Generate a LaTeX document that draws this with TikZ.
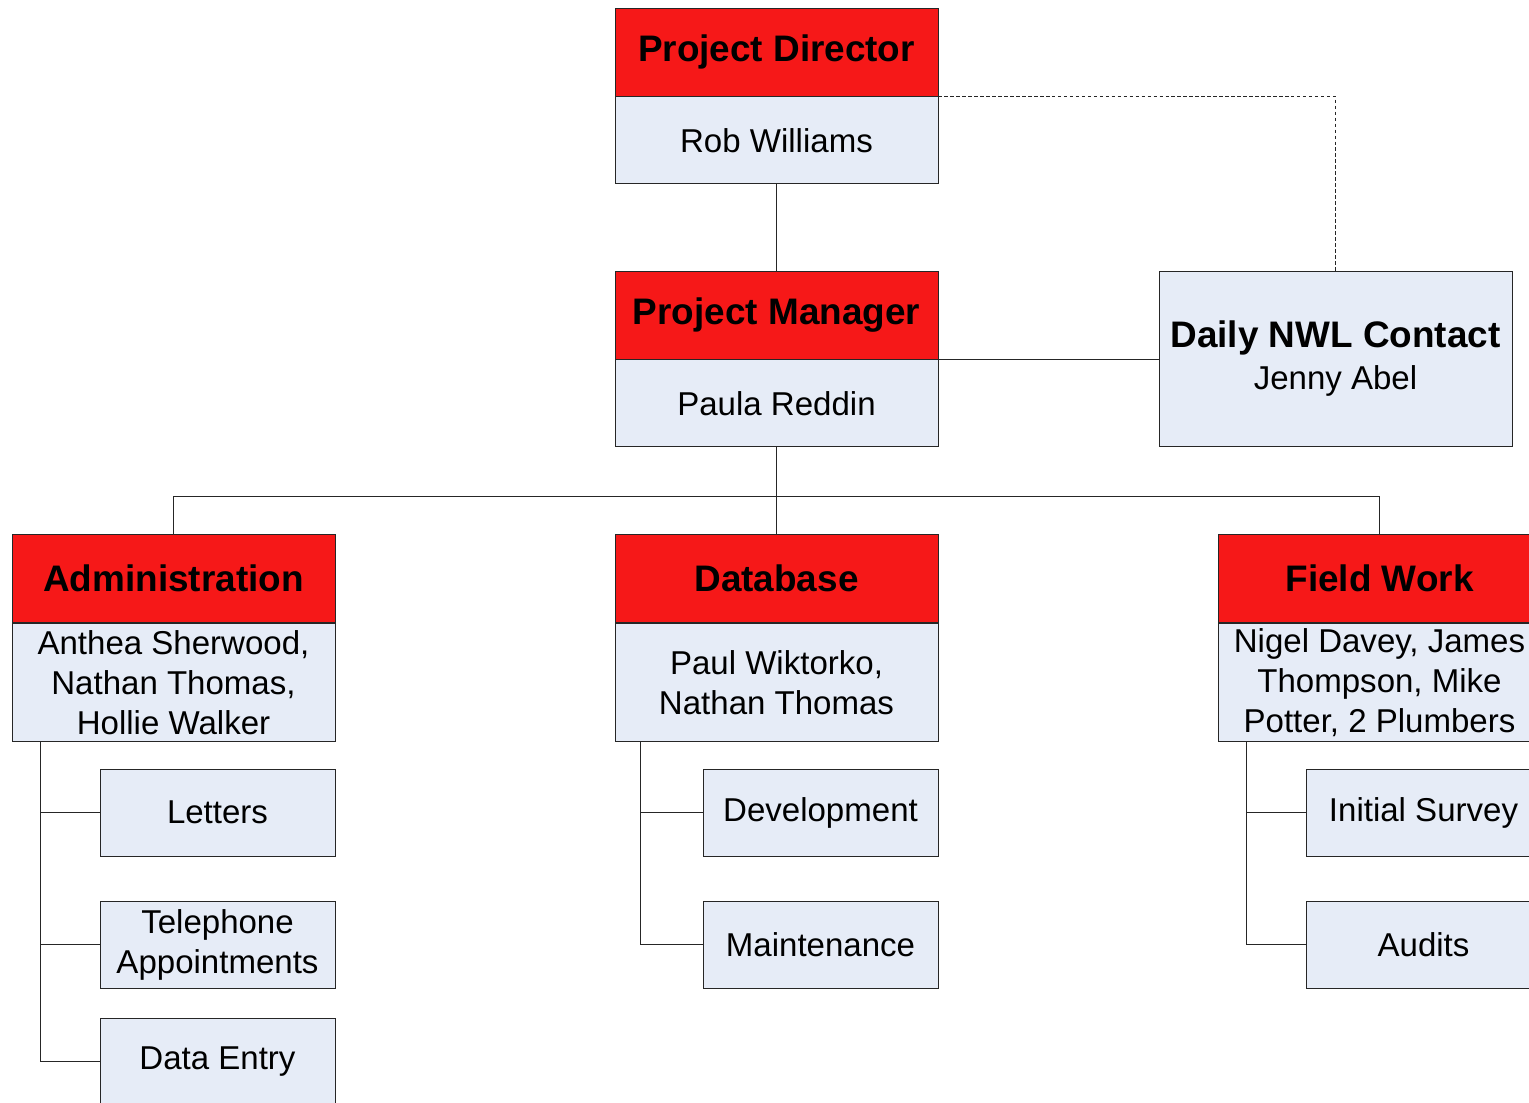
\documentclass[tikz,border=0pt]{standalone}
\usepackage{fontspec}
\setmainfont{Liberation Sans}
\usepackage{xcolor}
\usepackage{tikz}
\usetikzlibrary{positioning,calc}

\definecolor{headred}{RGB}{246,24,24}
\definecolor{boxblue}{RGB}{230,236,247}

\tikzset{
    line/.style={draw=black!85, line width=0.5pt},
    headbox/.style={line, fill=headred, minimum width=6.46cm, minimum height=1.76cm,
        inner sep=0pt, font=\bfseries\fontsize{21}{25}\selectfont},
    namebox/.style={line, fill=boxblue, minimum width=6.46cm, minimum height=1.74cm,
        inner sep=0pt, align=center, font=\fontsize{18.8}{22.7}\selectfont},
    taskbox/.style={namebox, minimum width=4.7cm}
}

\begin{document}
\begin{tikzpicture}
    \useasboundingbox (0,0) rectangle (30.58,-22.04);
    \clip (0,0) rectangle (30.58,-22.04);

    \node[headbox] (dirhead) at (15.53,-1.04) {Project Director};
    \node[namebox, below=0pt of dirhead] (dirbody) {Rob Williams};

    \node[headbox] (mgrhead) at (15.53,-6.30) {Project Manager};
    \node[namebox, below=0pt of mgrhead] (mgrbody) {Paula Reddin};

    \node[namebox, minimum width=7.06cm, minimum height=3.5cm] (contact) at (26.71,-7.17)
        {{\bfseries\fontsize{21}{25}\selectfont Daily NWL Contact}\\[1pt]Jenny Abel};

    \node[headbox] (adminhead) at (3.47,-11.57) {Administration};
    \node[namebox, minimum height=2.36cm, below=0pt of adminhead] (adminbody)
        {Anthea Sherwood,\\Nathan Thomas,\\Hollie Walker};

    \node[headbox] (dbhead) at (15.53,-11.57) {Database};
    \node[namebox, minimum height=2.36cm, below=0pt of dbhead] (dbbody)
        {Paul Wiktorko,\\Nathan Thomas};

    \node[headbox] (fieldhead) at (27.59,-11.57) {Field Work};
    \node[namebox, minimum height=2.36cm, below=0pt of fieldhead] (fieldbody)
        {Nigel Davey, James\\Thompson, Mike\\Potter, 2 Plumbers};

    \node[taskbox] (letters) at (4.35,-16.25) {Letters};
    \node[taskbox] (phone) at (4.35,-18.89) {Telephone\\Appointments};
    \node[taskbox] (entry) at (4.35,-21.23) {Data Entry};

    \node[taskbox] (devel) at (16.41,-16.25) {Development};
    \node[taskbox] (maint) at (16.41,-18.89) {Maintenance};

    \node[taskbox] (survey) at (28.47,-16.25) {Initial Survey};
    \node[taskbox] (audits) at (28.47,-18.89) {Audits};

    \draw[line] (dirbody.south) -- (mgrhead.north);
    \draw[line, dash pattern=on 2pt off 1.4pt, line width=0.45pt] (dirhead.south east) -| (contact.north);
    \draw[line] (mgrbody.north east) -- (contact.west |- mgrbody.north);

    \draw[line] (mgrbody.south) -- ++(0,-0.99) coordinate (bus);
    \draw[line] (bus) -| (adminhead.north);
    \draw[line] (bus) -- (dbhead.north);
    \draw[line] (bus) -| (fieldhead.north);

    \coordinate (atrunk) at ($(adminbody.south west)+(0.58,0)$);
    \coordinate (dtrunk) at ($(dbbody.south west)+(0.52,0)$);
    \coordinate (ftrunk) at ($(fieldbody.south west)+(0.58,0)$);

    \draw[line] (atrunk) |- (letters.west);
    \draw[line] (atrunk) |- (phone.west);
    \draw[line] (atrunk) |- (entry.west);

    \draw[line] (dtrunk) |- (devel.west);
    \draw[line] (dtrunk) |- (maint.west);

    \draw[line] (ftrunk) |- (survey.west);
    \draw[line] (ftrunk) |- (audits.west);
\end{tikzpicture}
\end{document}
